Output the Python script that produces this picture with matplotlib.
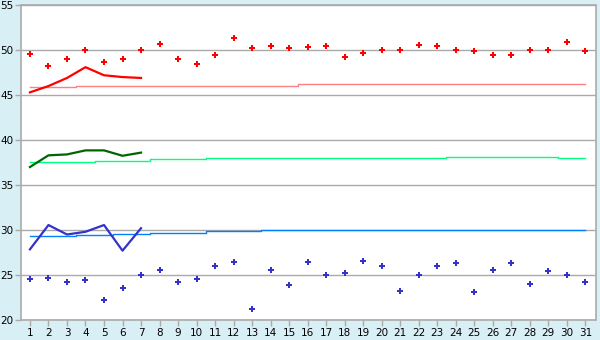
import matplotlib
matplotlib.use('Agg')
import matplotlib.pyplot as plt

# days of the month
days = list(range(1, 32))

# daily readings (scatter)
red_pts = [49.6, 48.2, 49.0, 50.0, 48.7, 49.0, 50.0, 50.7, 49.0, 48.5,
           49.4, 51.3, 50.2, 50.5, 50.2, 50.3, 50.5, 49.2, 49.7, 50.0,
           50.0, 50.6, 50.4, 50.0, 49.9, 49.5, 49.4, 50.0, 50.0, 50.9, 49.9]
blue_pts = [24.6, 24.7, 24.2, 24.4, 22.2, 23.5, 25.0, 25.5, 24.2, 24.6,
            26.0, 26.4, 21.2, 25.5, 23.9, 26.4, 25.0, 25.2, 26.6, 26.0,
            23.2, 25.0, 26.0, 26.3, 23.1, 25.5, 26.3, 24.0, 25.4, 25.0, 24.2]

# first week lines
week_days = list(range(1, 8))
red_week = [45.3, 46.0, 46.9, 48.1, 47.2, 47.0, 46.9]
green_week = [37.0, 38.3, 38.4, 38.85, 38.85, 38.25, 38.6]
blue_week = [27.85, 30.55, 29.5, 29.8, 30.55, 27.7, 30.2]

# running averages
red_avg = [45.85] * 3 + [45.97] * 7 + [46.05] * 5 + [46.2] * 16
green_avg = [37.52] * 4 + [37.7] * 3 + [37.85] * 3 + [37.96] * 13 + [38.07] * 6 + [37.96] * 2
blue_avg = [29.33] * 3 + [29.44] * 2 + [29.59] * 2 + [29.72] * 3 + [29.85] * 3 + [29.96] * 18

bg = '#d9eff6'
fig = plt.figure(figsize=(6, 3.4), dpi=100, facecolor=bg)
ax = fig.add_axes([0.0345, 0.059, 0.958, 0.926])
ax.set_facecolor('white')

ax.set_xlim(0.5, 31.55)
ax.set_ylim(20, 55)
ax.set_yticks(range(20, 56, 5))
ax.set_xticks(days)
ax.grid(axis='y', color='#aaaaaa', linewidth=1)
ax.set_axisbelow(True)

ax.plot(days, red_avg, color='#ff8080', linewidth=1, drawstyle='steps-mid')
ax.plot(days, green_avg, color='#00ff80', linewidth=1, drawstyle='steps-mid')
ax.plot(days, blue_avg, color='#0080ff', linewidth=1, drawstyle='steps-mid')

ax.plot(week_days, red_week, color='#ff0000', linewidth=1.6)
ax.plot(week_days, green_week, color='#006600', linewidth=1.6)
ax.plot(week_days, blue_week, color='#3333cc', linewidth=1.6)

ax.plot(days, red_pts, linestyle='none', marker='P', markersize=4.8,
        color='#ff0000', markeredgewidth=0)
ax.plot(days, blue_pts, linestyle='none', marker='P', markersize=4.8,
        color='#3333cc', markeredgewidth=0)

for s in ax.spines.values():
    s.set_color('#aaaaaa')
    s.set_linewidth(1.2)
ax.tick_params(axis='both', colors='#aaaaaa', labelcolor='black',
               labelsize=7.5, length=4, width=1, pad=1)
ax.tick_params(axis='x', pad=2)

plt.savefig('out.png', dpi=100, facecolor=bg)
